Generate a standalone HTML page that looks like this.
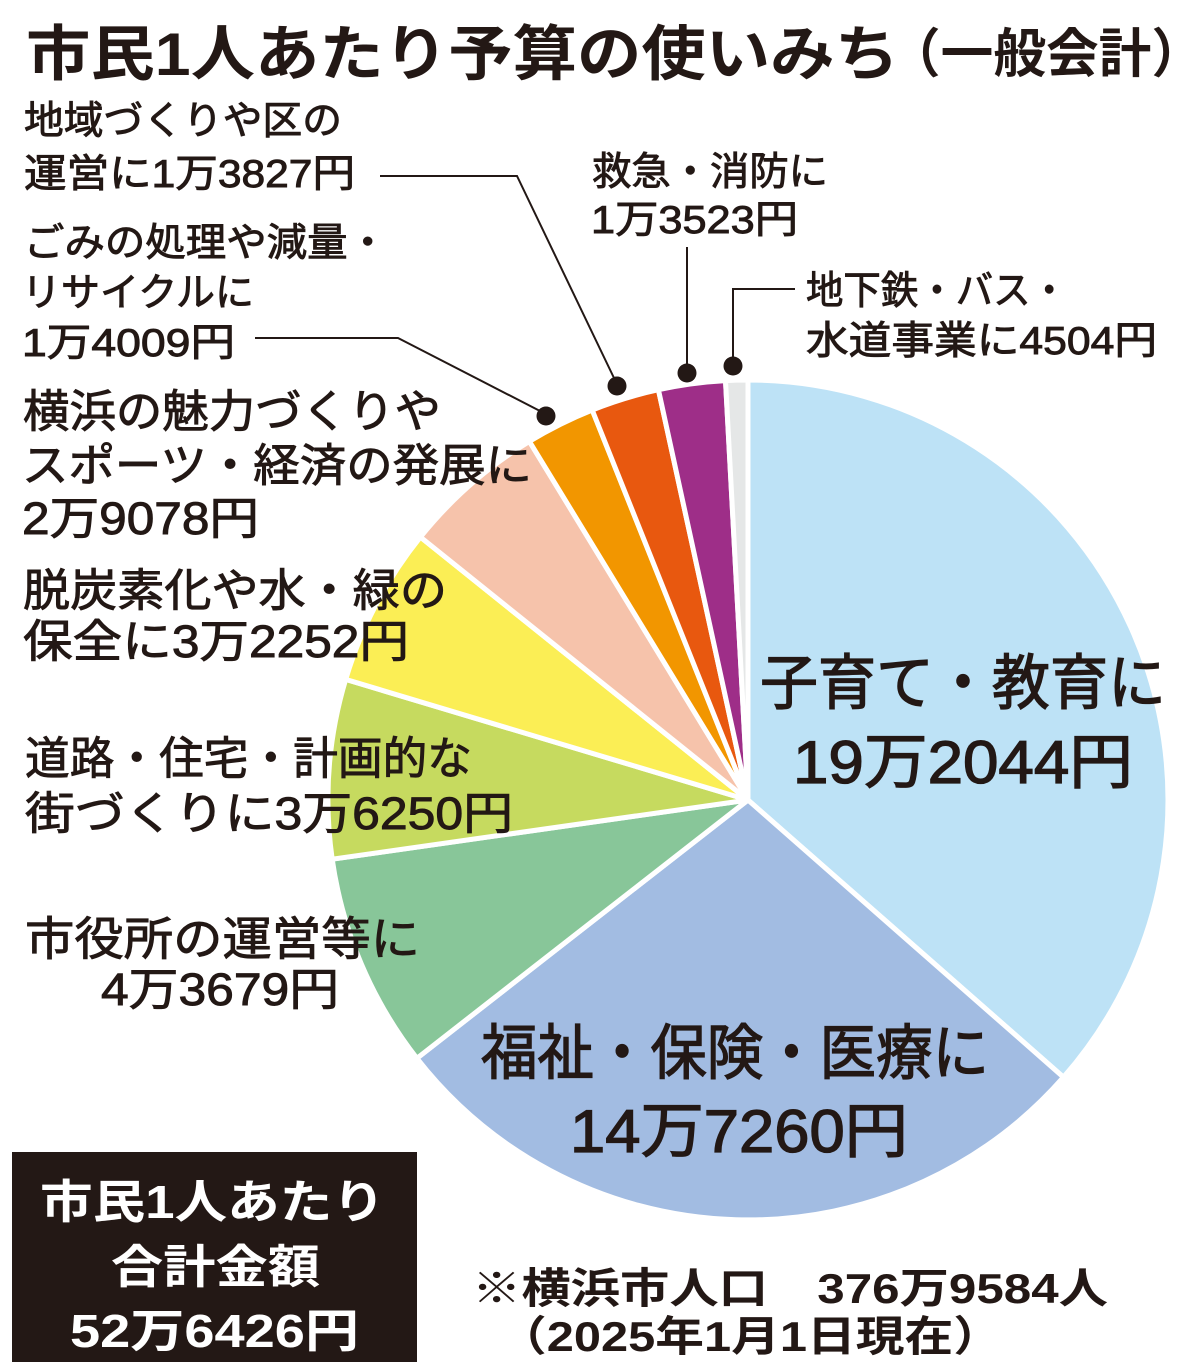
<!DOCTYPE html>
<html lang="ja">
<head>
<meta charset="utf-8">
<style>
  html,body{margin:0;padding:0;background:#fff;}
  body{width:1200px;height:1372px;overflow:hidden;}
  svg{display:block;}
  text{font-family:"Liberation Sans","Noto Sans CJK JP",sans-serif;fill:#231815;}
  .m{stroke:#231815;stroke-width:0.9px;}
  .mb{stroke:#231815;stroke-width:1.3px;}
</style>
</head>
<body>
<svg width="1200" height="1372" viewBox="0 0 1200 1372" xmlns="http://www.w3.org/2000/svg">
  <rect x="0" y="0" width="1200" height="1372" fill="#ffffff"/>

  <!-- Pie -->
  <g stroke="#ffffff" stroke-width="5" stroke-linejoin="round">
    <path d="M748 800 L748 380 A420 420 0 0 1 1063.5 1077.2 Z" fill="#bde2f6"/>
    <path d="M748 800 L1063.5 1077.2 A420 420 0 0 1 416.9 1058.3 Z" fill="#a2bce2"/>
    <path d="M748 800 L416.9 1058.3 A420 420 0 0 1 332.2 859.2 Z" fill="#88c699"/>
    <path d="M748 800 L332.2 859.2 A420 420 0 0 1 345.7 679.4 Z" fill="#c6da5f"/>
    <path d="M748 800 L345.7 679.4 A420 420 0 0 1 420.4 537.1 Z" fill="#fbee55"/>
    <path d="M748 800 L420.4 537.1 A420 420 0 0 1 529.4 441.4 Z" fill="#f6c3ab"/>
    <path d="M748 800 L529.4 441.4 A420 420 0 0 1 592.2 410.0 Z" fill="#f29600"/>
    <path d="M748 800 L592.2 410.0 A420 420 0 0 1 658.4 389.7 Z" fill="#e8580f"/>
    <path d="M748 800 L658.4 389.7 A420 420 0 0 1 725.5 380.6 Z" fill="#9e2e88"/>
    <path d="M748 800 L725.5 380.6 A420 420 0 0 1 748 380 Z" fill="#e5e7e7"/>
  </g>

  <!-- Leader lines -->
  <g stroke="#231815" stroke-width="2" fill="none">
    <polyline points="380,176 517,176 614,378"/>
    <polyline points="255,338 398,338 540,411"/>
    <polyline points="687,247 687,372"/>
    <polyline points="795,289 733,289 733,365"/>
  </g>
  <g fill="#231815">
    <circle cx="617" cy="386" r="9.5"/>
    <circle cx="546" cy="416" r="9.5"/>
    <circle cx="687" cy="373" r="9.5"/>
    <circle cx="733" cy="366" r="9.5"/>
  </g>

  <!-- Title -->
  <text x="26" y="75" font-size="60" font-weight="bold" textLength="873" lengthAdjust="spacingAndGlyphs">市民1人あたり予算の使いみち</text>
  <text x="888" y="72" font-size="53" font-weight="bold" textLength="316" lengthAdjust="spacingAndGlyphs">（一般会計）</text>

  <!-- Top-left labels -->
  <g class="m">
  <text x="24" y="134" font-size="39" textLength="318" lengthAdjust="spacingAndGlyphs">地域づくりや区の</text>
  <text x="24" y="187" font-size="39" textLength="331" lengthAdjust="spacingAndGlyphs">運営に1万3827円</text>
  <text x="24" y="256" font-size="39" textLength="364" lengthAdjust="spacingAndGlyphs">ごみの処理や減量・</text>
  <text x="22" y="306" font-size="39" textLength="232" lengthAdjust="spacingAndGlyphs">リサイクルに</text>
  <text x="22" y="356" font-size="39" textLength="213" lengthAdjust="spacingAndGlyphs">1万4009円</text>

  <!-- Top-right labels -->
  <text x="592" y="185" font-size="39" textLength="236" lengthAdjust="spacingAndGlyphs">救急・消防に</text>
  <text x="591" y="233" font-size="39" textLength="207" lengthAdjust="spacingAndGlyphs">1万3523円</text>
  <text x="806" y="304" font-size="39" textLength="262" lengthAdjust="spacingAndGlyphs">地下鉄・バス・</text>
  <text x="806" y="354" font-size="39" textLength="351" lengthAdjust="spacingAndGlyphs">水道事業に4504円</text>

  <!-- Middle-left labels -->
  <text x="23" y="427" font-size="45" textLength="418" lengthAdjust="spacingAndGlyphs">横浜の魅力づくりや</text>
  <text x="22" y="481" font-size="45" textLength="510" lengthAdjust="spacingAndGlyphs">スポーツ・経済の発展に</text>
  <text x="22" y="534" font-size="45" textLength="237" lengthAdjust="spacingAndGlyphs">2万9078円</text>
  <text x="23" y="606" font-size="45" textLength="424" lengthAdjust="spacingAndGlyphs">脱炭素化や水・緑の</text>
  <text x="23" y="657" font-size="45" textLength="386" lengthAdjust="spacingAndGlyphs">保全に3万2252円</text>
  <text x="25" y="774" font-size="45" textLength="447" lengthAdjust="spacingAndGlyphs">道路・住宅・計画的な</text>
  <text x="25" y="829" font-size="45" textLength="488" lengthAdjust="spacingAndGlyphs">街づくりに3万6250円</text>
  <text x="25" y="955" font-size="46" textLength="395" lengthAdjust="spacingAndGlyphs">市役所の運営等に</text>
  <text x="101" y="1005" font-size="45" textLength="238" lengthAdjust="spacingAndGlyphs">4万3679円</text>
  </g>

  <!-- Inside labels -->
  <g class="mb">
  <text x="760" y="704" font-size="60" textLength="406" lengthAdjust="spacingAndGlyphs">子育て・教育に</text>
  <text x="793" y="783" font-size="60" textLength="340" lengthAdjust="spacingAndGlyphs">19万2044円</text>
  <text x="481" y="1074" font-size="60" textLength="508" lengthAdjust="spacingAndGlyphs">福祉・保険・医療に</text>
  <text x="570" y="1152" font-size="60" textLength="338" lengthAdjust="spacingAndGlyphs">14万7260円</text>
  </g>

  <!-- Total box -->
  <rect x="12" y="1152" width="405" height="210" fill="#231815"/>
  <text x="40" y="1218" font-size="46" font-weight="bold" style="fill:#ffffff" textLength="345" lengthAdjust="spacingAndGlyphs">市民1人あたり</text>
  <text x="111" y="1283" font-size="46" font-weight="bold" style="fill:#ffffff" textLength="209" lengthAdjust="spacingAndGlyphs">合計金額</text>
  <text x="70" y="1347" font-size="46" font-weight="bold" style="fill:#ffffff" textLength="289" lengthAdjust="spacingAndGlyphs">52万6426円</text>

  <!-- Note -->
  <text x="472" y="1303" font-size="42" font-weight="bold" textLength="636" lengthAdjust="spacingAndGlyphs">※横浜市人口　376万9584人</text>
  <text x="498" y="1351" font-size="42" font-weight="bold" textLength="504" lengthAdjust="spacingAndGlyphs">（2025年1月1日現在）</text>
</svg>
</body>
</html>
